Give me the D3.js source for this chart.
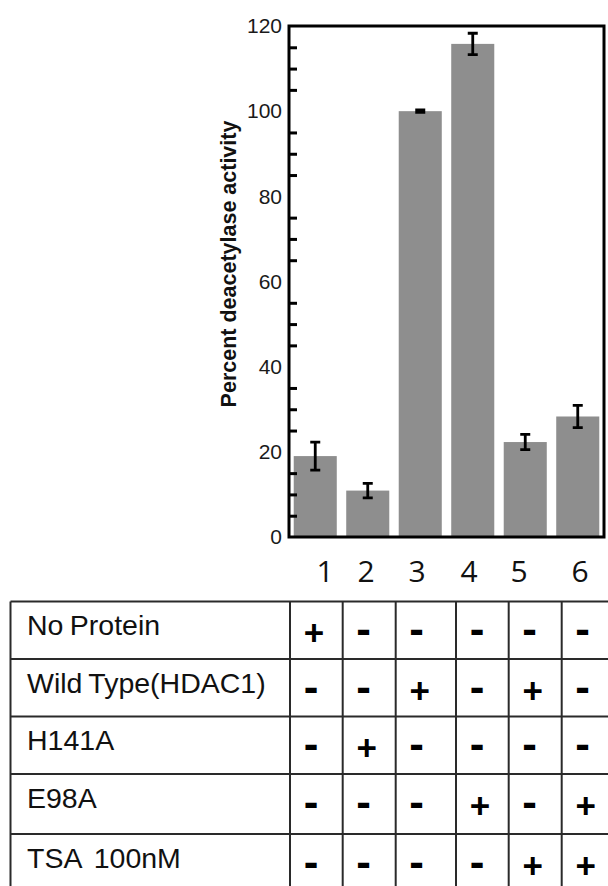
<!DOCTYPE html>
<html>
<head>
<meta charset="utf-8">
<script src="https://cdn.jsdelivr.net/npm/d3@7"></script>
<style>
  html, body { margin: 0; padding: 0; background: #fff; }
  svg { display: block; }
</style>
</head>
<body>
<svg id="chart" width="608" height="886"></svg>
<script>
// Lanes and measured deacetylase activity (percent of wild type), mean and error
const lanes = ["1", "2", "3", "4", "5", "6"];
const activity = [19.0, 10.9, 100.0, 115.8, 22.3, 28.3];
const errors = [3.3, 1.7, 0.3, 2.5, 1.8, 2.6];
const yLabelTicks = [0, 20, 40, 60, 80, 100, 120];
const yMinorTicks = [5, 10, 15, 25, 30, 35, 45, 50, 55, 65, 70, 75, 85, 90, 95, 105, 110, 115];

// Reaction conditions per lane
const conditions = ["No Protein", "Wild Type(HDAC1)", "H141A", "E98A", "TSA  100nM"];
const noProtein = ["+", "-", "-", "-", "-", "-"];
const wildType = ["-", "-", "+", "-", "+", "-"];
const h141a = ["-", "+", "-", "-", "-", "-"];
const e98a = ["-", "-", "-", "+", "-", "+"];
const tsa = ["-", "-", "-", "-", "+", "+"];
const conditionRows = [noProtein, wildType, h141a, e98a, tsa];

const svg = d3.select("#chart");

// ---- bar chart ----
const plot = { left: 289, right: 604, top: 26, bottom: 537 };

const x = d3.scaleBand()
  .domain(lanes)
  .range([plot.left, plot.right])
  .paddingInner(0.18)
  .paddingOuter(0.09);

const y = d3.scaleLinear()
  .domain([0, 120])
  .range([plot.bottom, plot.top]);

svg.append("g")
  .selectAll("rect")
  .data(lanes)
  .join("rect")
  .attr("x", d => x(d))
  .attr("width", x.bandwidth())
  .attr("y", (d, i) => y(activity[i]))
  .attr("height", (d, i) => y(0) - y(activity[i]))
  .attr("fill", "#8e8e8e");

// error bars
const eb = svg.append("g")
  .attr("stroke", "#000")
  .attr("stroke-width", 2.8)
  .attr("fill", "none");
lanes.forEach((d, i) => {
  const cx = x(d) + x.bandwidth() / 2;
  const hi = y(activity[i] + errors[i]);
  const lo = y(activity[i] - errors[i]);
  const cap = 5;
  eb.append("path")
    .attr("d", `M${cx - cap},${hi}H${cx + cap}M${cx},${hi}V${lo}M${cx - cap},${lo}H${cx + cap}`);
});

// minor ticks pointing into the plot
const minorAxis = svg.append("g")
  .attr("transform", `translate(${plot.left},0)`)
  .call(d3.axisRight(y).tickValues(yMinorTicks).tickSize(8).tickFormat(""));
minorAxis.select(".domain").remove();
minorAxis.selectAll("line").attr("stroke", "#000").attr("stroke-width", 3);

// labelled values
const labelAxis = svg.append("g")
  .attr("transform", `translate(${plot.left},0)`)
  .call(d3.axisLeft(y).tickValues(yLabelTicks).tickSize(0).tickPadding(7));
labelAxis.select(".domain").remove();
labelAxis.selectAll("text")
  .attr("font-family", "'Liberation Sans', Arial, sans-serif")
  .attr("font-size", 21)
  .attr("fill", "#1a1a1a");

// plot frame
svg.append("rect")
  .attr("x", plot.left)
  .attr("y", plot.top)
  .attr("width", plot.right - plot.left)
  .attr("height", plot.bottom - plot.top)
  .attr("fill", "none")
  .attr("stroke", "#000")
  .attr("stroke-width", 3);

// y title
svg.append("text")
  .attr("transform", `translate(236,264) rotate(-90)`)
  .attr("text-anchor", "middle")
  .attr("font-family", "'Liberation Sans', Arial, sans-serif")
  .attr("font-weight", "bold")
  .attr("font-size", 21.5)
  .attr("fill", "#111")
  .text("Percent deacetylase activity");

// ---- condition table ----
const table = { left: 10.5, labelX: 27, right: 614 };
const colEdges = [290, 342.7, 395.7, 456, 508.7, 561.7, 614];
const rowEdges = [601.5, 659, 716.5, 774, 834, 893];

// lane numbers above the table
const laneLabelX = [325, 366, 417, 469, 519, 580];
svg.append("g")
  .selectAll("text")
  .data(lanes)
  .join("text")
  .attr("x", (d, i) => laneLabelX[i])
  .attr("y", 582)
  .attr("text-anchor", "middle")
  .attr("font-family", "'Open Sans', sans-serif")
  .attr("font-size", 30)
  .attr("fill", "#111")
  .text(d => d);

const grid = svg.append("g")
  .attr("stroke", "#2a2a2a")
  .attr("stroke-width", 2);
rowEdges.slice(0, 5).forEach(ry => {
  grid.append("line").attr("x1", table.left).attr("x2", table.right).attr("y1", ry).attr("y2", ry);
});
[table.left].concat(colEdges).forEach(cx => {
  grid.append("line").attr("x1", cx).attr("x2", cx).attr("y1", rowEdges[0]).attr("y2", 886);
});

conditions.forEach((name, r) => {
  const top = rowEdges[r];
  svg.append("text")
    .attr("x", table.labelX)
    .attr("y", top + 33.5)
    .attr("xml:space", "preserve")
    .attr("font-family", "'Liberation Sans', Arial, sans-serif")
    .attr("font-size", 28.5)
    .attr("fill", "#111")
    .attr("word-spacing", -1.5)
    .style("white-space", "pre")
    .text(name);

  const cy = top + 31.5;
  svg.append("g")
    .selectAll("text")
    .data(conditionRows[r])
    .join("text")
    .attr("x", (s, c) => colEdges[c] + (s === "+" ? 24 : 21))
    .attr("y", s => s === "+" ? cy + 0.35 * 35 : cy + 0.255 * 44)
    .attr("text-anchor", "middle")
    .attr("font-family", "'Liberation Sans', Arial, sans-serif")
    .attr("font-weight", "bold")
    .attr("font-size", s => s === "+" ? 35 : 44)
    .attr("fill", "#000")
    .text(s => s);
});
</script>
</body>
</html>
